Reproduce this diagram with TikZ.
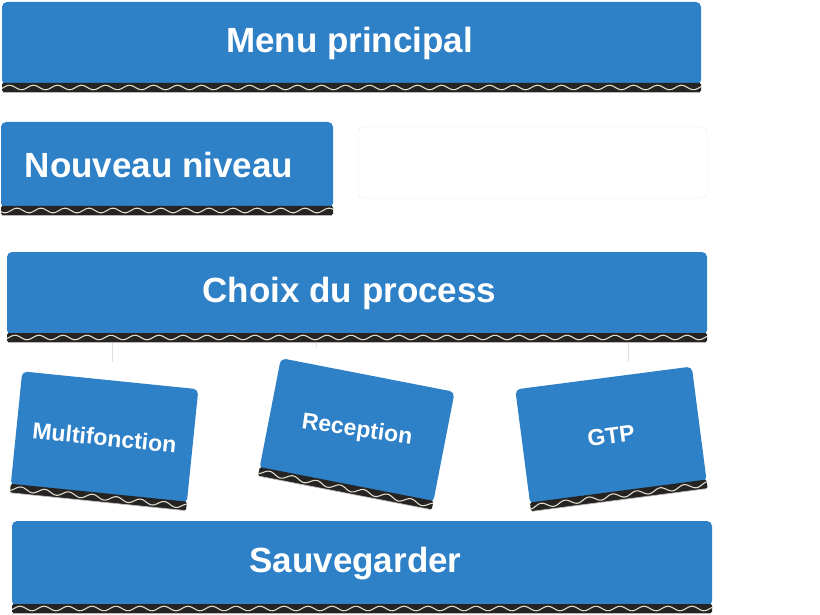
\documentclass[tikz,border=0pt]{standalone}
\usepackage{fontspec}
\setmainfont{Liberation Sans}
\definecolor{carton}{RGB}{46,128,199}
\definecolor{cannelure}{RGB}{38,36,34}
\definecolor{onde}{RGB}{222,218,204}
\tikzset{
  boite/.style={fill=carton, rounded corners=5pt, inner sep=0pt, text=white, font=\bfseries\fontsize{35}{40}\selectfont},
  petite/.style={boite, font=\bfseries\fontsize{23}{26}\selectfont},
  lien/.style={draw=gray!25, line width=0.8pt},
}
% bande ondulee sous une boite : nom, angle, demi-largeur, demi-hauteur
\newcommand{\ondule}[4]{%
  \begin{scope}[shift={(#1.center)}, rotate=#2]
    \fill[cannelure, rounded corners=1.5pt] (-#3,#4-2) rectangle (#3,#4+7);
    \draw[onde, line width=1.1pt] plot[domain=-#3:#3, samples=240, smooth] (\x,{#4+2.5+2.3*sin(\x*15)});
    \draw[gray!55, line width=0.7pt] (-#3+1,#4+7) -- (#3-1,#4+7);
  \end{scope}}

\begin{document}
\begin{tikzpicture}[x=1pt,y=-1pt]
\useasboundingbox (0,0) rectangle (820,615);

% grandes boites
\node[boite, minimum width=699pt, minimum height=83pt] (menu) at (351.5,43.5) {Menu principal\kern4pt};
\ondule{menu}{0}{349.5}{41.5}
\node[boite, minimum width=332pt, minimum height=86pt] (nouveau) at (167,165) {Nouveau niveau\kern16pt};
\ondule{nouveau}{0}{166}{43}
\node[draw=gray!18, fill=white, rounded corners=5pt, minimum width=349pt, minimum height=71pt] (vide) at (532.5,162.5) {};
\node[boite, minimum width=700pt, minimum height=83pt] (choix) at (357,293.5) {Choix du process\kern15pt};
\ondule{choix}{0}{350}{41.5}
\node[boite, minimum width=700pt, minimum height=85pt] (sauve) at (362,563.5) {Sauvegarder\kern13pt};
\ondule{sauve}{0}{350}{42.5}

% petites boites
\node[petite, rotate=-5.8, minimum width=177pt, minimum height=115pt] (multi) at (104.5,437.5) {Multifonction};
\ondule{multi}{-5.8}{88.5}{57.5}
\node[petite, rotate=-11, minimum width=177pt, minimum height=113pt] (recep) at (357,430.5) {\rotatebox{3}{Reception}};
\ondule{recep}{-11}{88.5}{56.5}
\node[petite, rotate=7.4, minimum width=178pt, minimum height=116pt] (gtp) at (611,435.5) {GTP};
\ondule{gtp}{7.4}{89}{58}

% liens
\coordinate (l1) at (112,362);
\coordinate (l2) at (316,347);
\coordinate (l3) at (628,362);
\draw[lien] (choix.south -| l1) ++(0,8) -- (l1);
\draw[lien] (choix.south -| l2) ++(0,8) -- (l2);
\draw[lien] (choix.south -| l3) ++(0,8) -- (l3);
\end{tikzpicture}
\end{document}
